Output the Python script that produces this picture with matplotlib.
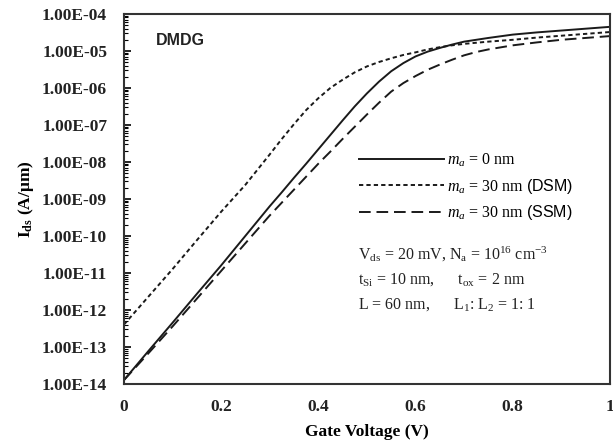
import matplotlib.pyplot as plt
import numpy as np
from matplotlib.ticker import FixedLocator, FuncFormatter, LogLocator, NullFormatter

plt.rcParams["mathtext.fontset"] = "custom"
plt.rcParams["mathtext.rm"] = "Liberation Serif"
plt.rcParams["mathtext.it"] = "Liberation Serif:italic"
plt.rcParams["mathtext.bf"] = "Liberation Serif:bold"
plt.rcParams["mathtext.sf"] = "Liberation Sans"

# gate voltage (V)
vg = [0.0, 0.05, 0.1, 0.15, 0.2, 0.25, 0.3, 0.325, 0.35, 0.375, 0.4, 0.425, 0.45, 0.475, 0.5,
      0.525, 0.55, 0.575, 0.6, 0.625, 0.65, 0.675, 0.7, 0.725, 0.75, 0.8, 0.85, 0.9, 0.95, 1.0]

# log10(Ids)
log_ids_0nm = [-13.9, -13.12, -12.35, -11.57, -10.8, -10.0, -9.2, -8.82, -8.43, -8.05, -7.66,
               -7.27, -6.88, -6.5, -6.15, -5.83, -5.55, -5.33, -5.15, -5.02, -4.92, -4.83,
               -4.75, -4.7, -4.65, -4.56, -4.5, -4.45, -4.4, -4.35]
log_ids_dsm = [-12.4, -11.65, -10.9, -10.12, -9.35, -8.62, -7.8, -7.38, -6.98, -6.6, -6.28,
               -6.0, -5.78, -5.58, -5.42, -5.3, -5.2, -5.11, -5.04, -4.96, -4.9, -4.85,
               -4.81, -4.78, -4.75, -4.7, -4.64, -4.59, -4.54, -4.49]
log_ids_ssm = [-13.9, -13.18, -12.45, -11.7, -10.95, -10.2, -9.45, -9.1, -8.75, -8.4, -8.05,
               -7.72, -7.38, -7.05, -6.72, -6.4, -6.1, -5.87, -5.68, -5.51, -5.37, -5.24,
               -5.12, -5.03, -4.96, -4.85, -4.77, -4.7, -4.65, -4.6]

labels = [r"$m_a$ = 0 nm", r"$m_a$ = 30 nm $\mathsf{(DSM)}$", r"$m_a$ = 30 nm $\mathsf{(SSM)}$"]

fig = plt.figure(figsize=(6.13, 4.48), dpi=100)
ax = fig.add_axes([0.202, 0.143, 0.793, 0.826])

col = "#1a1a1a"
ax.plot(vg, 10 ** np.array(log_ids_0nm), color=col, lw=1.4, ls="-", label=labels[0])
ax.plot(vg, 10 ** np.array(log_ids_dsm), color=col, lw=1.4, ls=(0, (2.2, 1.6)), label=labels[1])
ax.plot(vg, 10 ** np.array(log_ids_ssm), color=col, lw=1.4, ls=(0, (6, 3)), label=labels[2])

ax.set_yscale("log")
ax.set_xlim(0, 1)
ax.set_ylim(1e-14, 1e-4)

serif = "Liberation Serif"
ax.yaxis.set_major_locator(FixedLocator([10.0 ** e for e in range(-14, -3)]))
ax.yaxis.set_major_formatter(FuncFormatter(lambda v, p: f"{v:.2E}"))
ax.yaxis.set_minor_locator(LogLocator(base=10, subs=np.arange(2, 10), numticks=100))
ax.yaxis.set_minor_formatter(NullFormatter())
ax.tick_params(axis="y", which="major", direction="in", length=5, width=1.2, pad=12)
ax.tick_params(axis="y", which="minor", direction="in", length=3, width=0.8)
ax.set_xticks([0, 0.2, 0.4, 0.6, 0.8, 1.0])
ax.set_xticklabels(["0", "0.2", "0.4", "0.6", "0.8", "1"])
ax.tick_params(axis="x", length=0, pad=11)
for lab in ax.get_xticklabels() + ax.get_yticklabels():
    lab.set_fontfamily(serif)
    lab.set_fontweight("bold")
    lab.set_fontsize(12.5)
    lab.set_color("#222222")

for s in ax.spines.values():
    s.set_linewidth(1.5)
    s.set_color("#333333")

ax.set_xlabel("Gate Voltage (V)", fontfamily=serif, fontweight="bold", fontsize=12.5, labelpad=6)
ax.set_ylabel(r"I$_{\mathbf{ds}}$ (A/μm)", fontfamily=serif, fontweight="bold", fontsize=12.5,
              labelpad=4)

ax.text(0.065, 0.915, "DMDG", transform=ax.transAxes, fontfamily="Liberation Sans",
        fontweight="bold", fontsize=11.5, color="#222222")

leg = ax.legend(loc="upper left", bbox_to_anchor=(0.455, 0.668), frameon=False,
                handlelength=5.3, handletextpad=0.2, labelspacing=0.5,
                prop={"family": serif, "size": 11.5})

info = [r"V$_{\mathrm{ds}}$ = 20 mV, N$_{\mathrm{a}}$ = 10$^{16}$ cm$^{-3}$",
        r"t$_{\mathrm{Si}}$ = 10 nm,      t$_{\mathrm{ox}}$ = 2 nm",
        r"L = 60 nm,      L$_1$: L$_2$ = 1: 1"]
for i, t in enumerate(info):
    ax.text(0.482, 0.35 - i * 0.068, t, transform=ax.transAxes, fontfamily=serif,
            fontsize=11.5, color="#222222", va="center")

fig.savefig("out.png", dpi=100)
